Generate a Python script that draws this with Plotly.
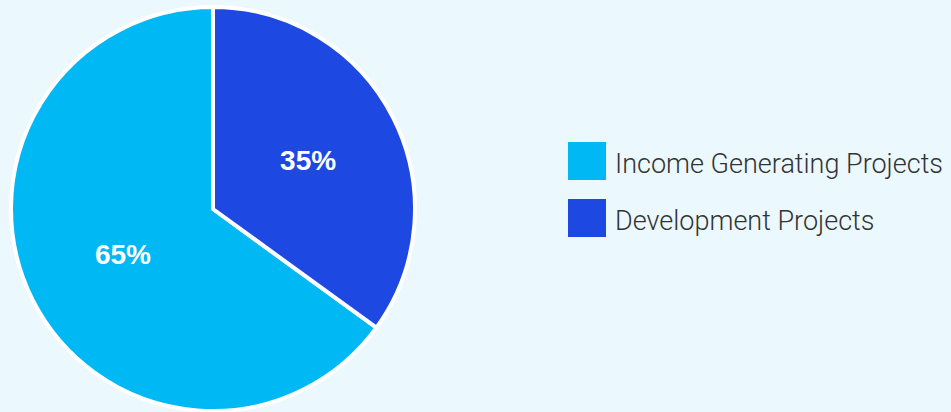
import plotly.graph_objects as go

# Share of project portfolio by type
categories = ["Income Generating Projects", "Development Projects"]
shares = [65, 35]
colors = ["#00B8F3", "#1E48E2"]

W, H = 951, 412
bg = "#EBF8FE"

fig = go.Figure()
fig.add_trace(go.Pie(
    labels=categories,
    values=shares,
    sort=False,
    direction="clockwise",
    rotation=126,
    marker=dict(colors=colors, line=dict(color="white", width=4)),
    textinfo="percent",
    texttemplate="%{percent:.0%}",
    textposition="inside",
    insidetextorientation="horizontal",
    textfont=dict(family="Liberation Sans, Arial, sans-serif", size=28, color="white", weight="bold"),
    hoverinfo="label+percent",
    showlegend=False,
    domain=dict(x=[11 / W, 415 / W], y=[1 / H, 405 / H]),
))

# Legend drawn as squares with labels beside them
sq = 38
x0 = 568
y_tops = [142, 199]
shapes, annotations = [], []
for name, col, yt in zip(categories, colors, y_tops):
    shapes.append(dict(
        type="rect", xref="paper", yref="paper",
        x0=x0 / W, x1=(x0 + sq) / W,
        y0=1 - (yt + sq) / H, y1=1 - yt / H,
        fillcolor=col, line=dict(width=0),
    ))
    annotations.append(dict(
        text=name, xref="paper", yref="paper",
        x=613 / W, y=1 - (yt + sq / 2 + 3) / H,
        xanchor="left", yanchor="middle", showarrow=False,
        font=dict(family="Roboto, Liberation Sans, sans-serif", size=27, color="#333333", weight=300),
    ))

fig.update_layout(
    width=W, height=H,
    margin=dict(l=0, r=0, t=0, b=0),
    paper_bgcolor=bg, plot_bgcolor=bg,
    shapes=shapes, annotations=annotations,
)

fig.write_html("out.html")
